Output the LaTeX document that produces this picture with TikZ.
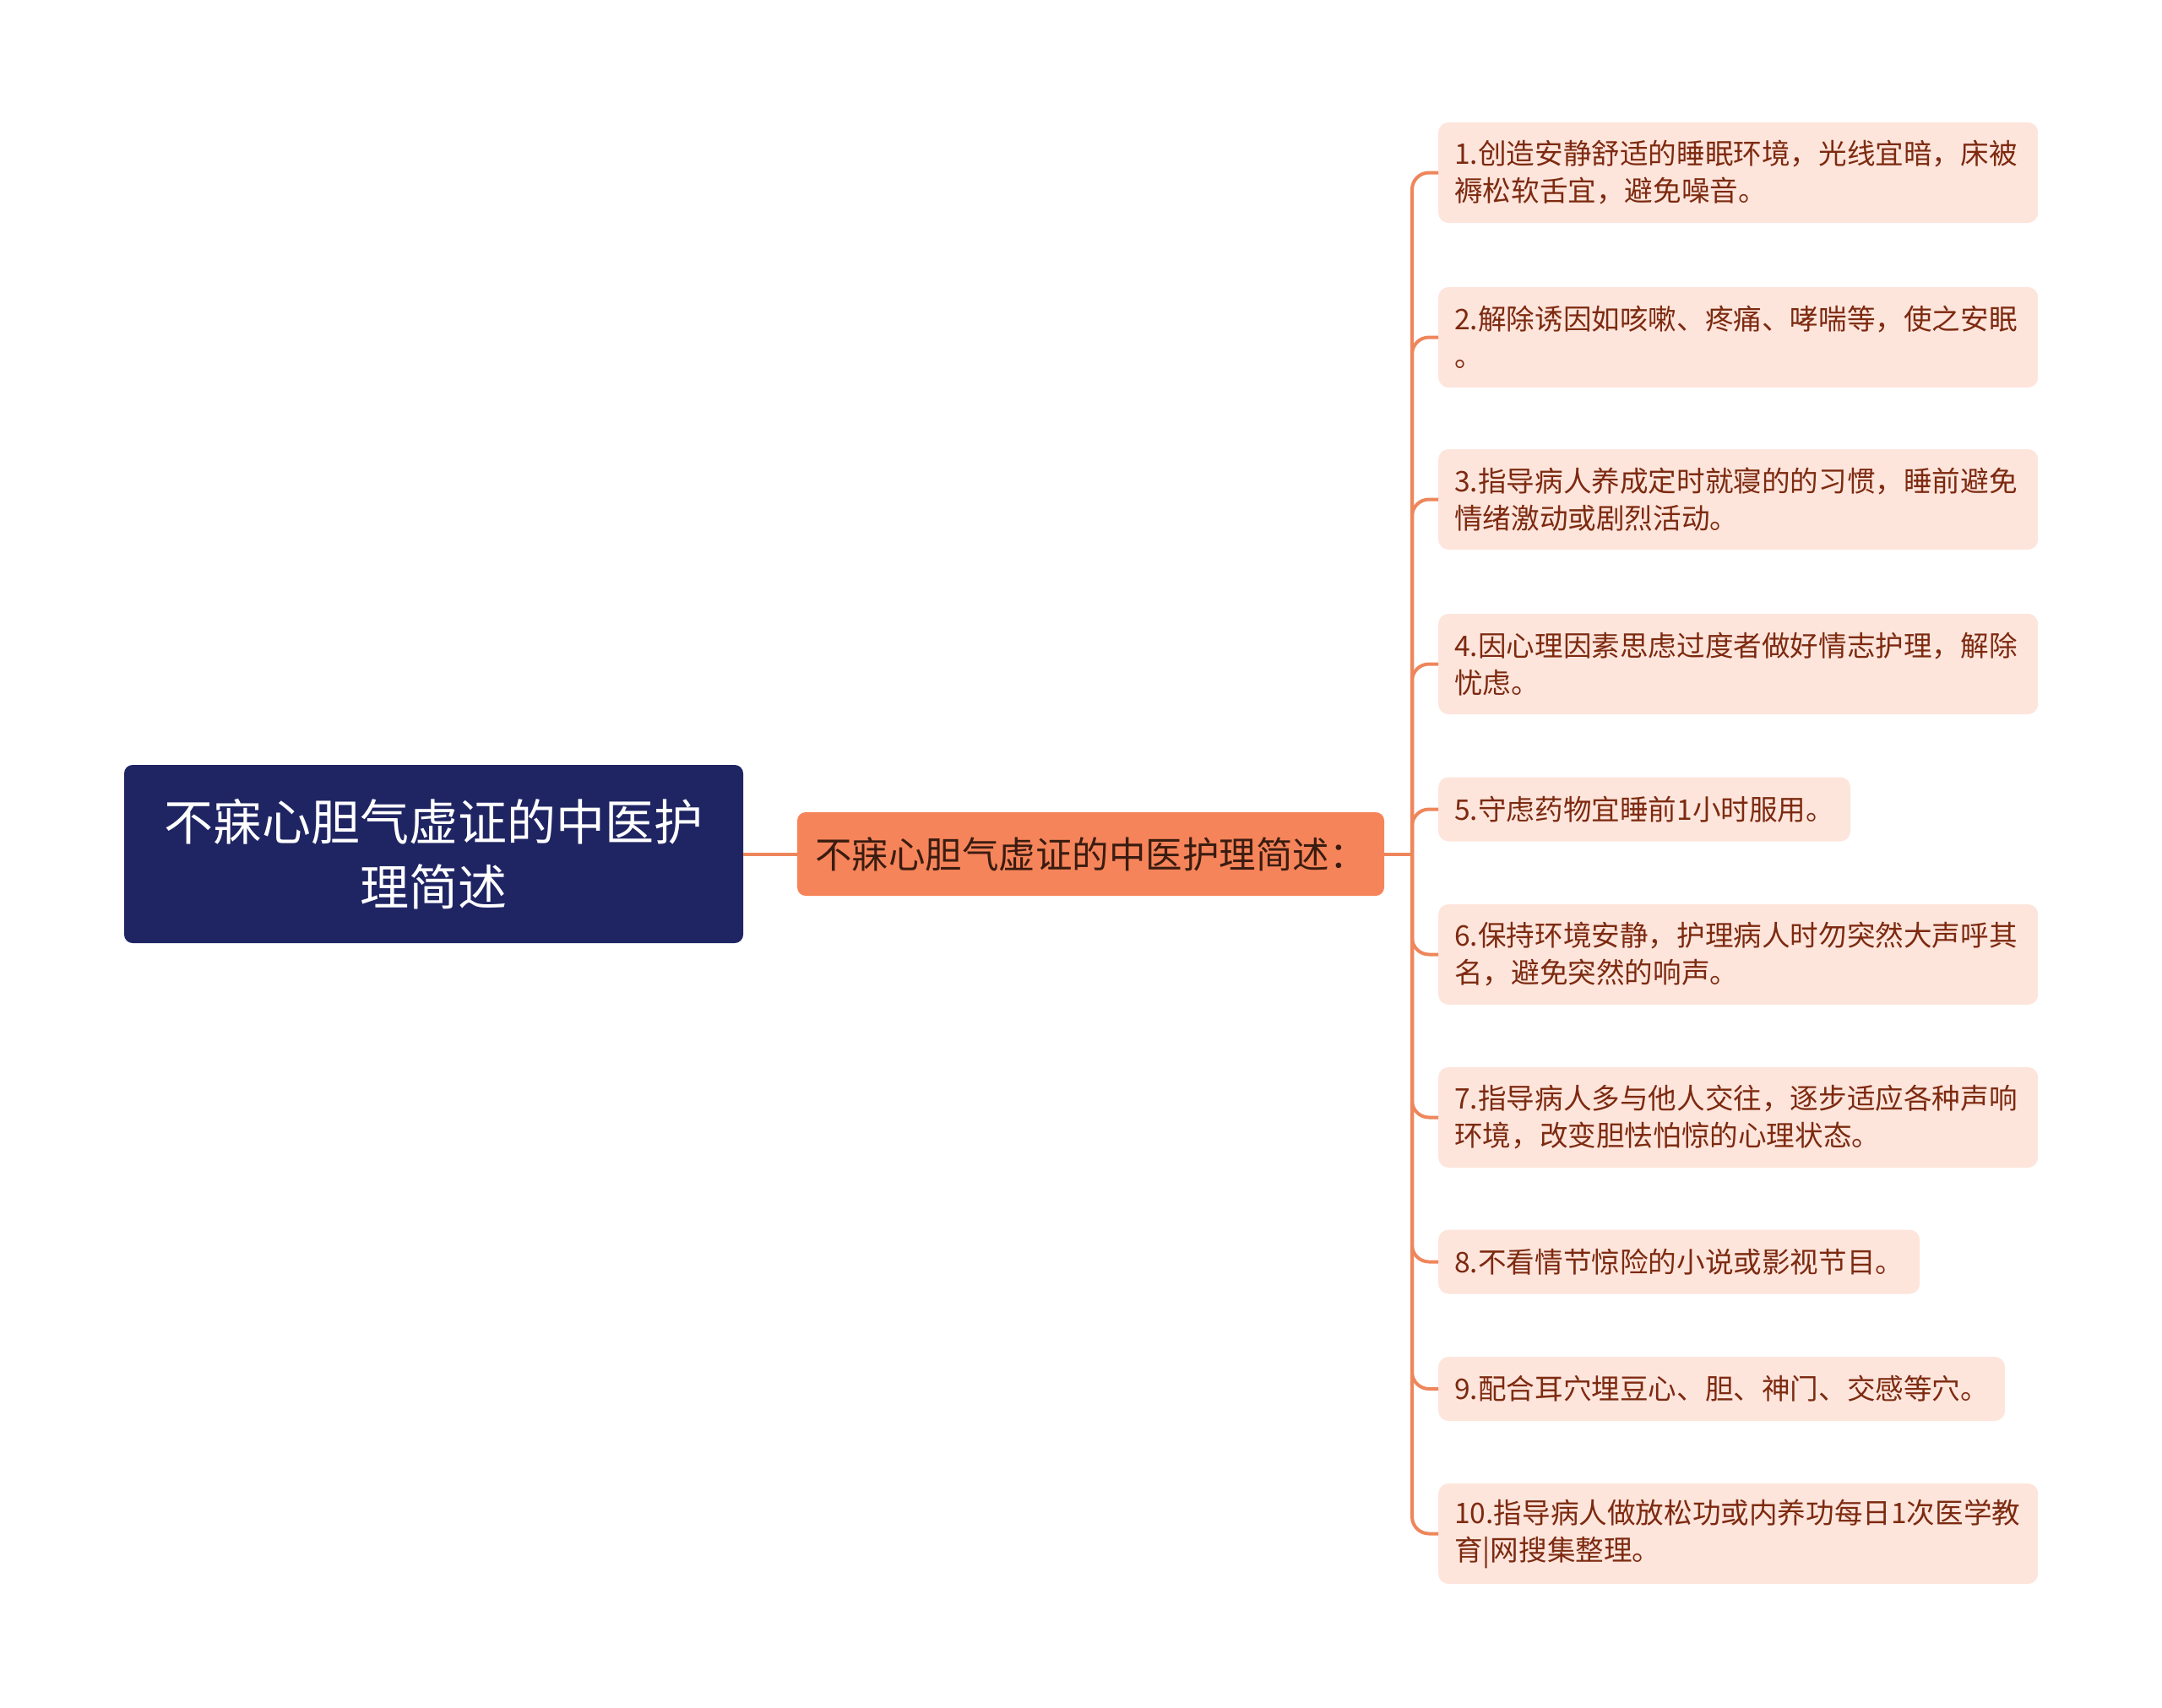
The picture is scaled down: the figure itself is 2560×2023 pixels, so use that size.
\documentclass[tikz,border=0pt]{standalone}
\usepackage{fontspec}
\setmainfont{Noto Sans CJK SC}
\definecolor{navy}{HTML}{1F2563}
\definecolor{coral}{HTML}{F6845A}
\definecolor{peach}{HTML}{FDE5DC}
\definecolor{rust}{HTML}{7D2A10}
\definecolor{cocoa}{HTML}{3A1C10}
\definecolor{wire}{HTML}{EE865C}

\begin{document}
\begin{tikzpicture}[x = 1pt, y = -1pt, link/.style = {draw = wire, line width = 4pt, rounded corners = 20pt}]
    \useasboundingbox (0,0) rectangle (2560,2023);
    \tikzstyle{r}=[rectangle, rounded corners = 10pt, fill = navy, text = white, align = center, minimum width = 733pt, minimum height = 211pt, inner sep = 0pt, font = \fontsize{58}{77}\selectfont]
    \tikzstyle{m}=[rectangle, rounded corners = 10pt, fill = coral, text = cocoa, minimum width = 695pt, minimum height = 99pt, inner sep = 0pt, font = \fontsize{43.5}{50}\selectfont]
    \tikzstyle{l}=[rectangle, rounded corners = 12pt, fill = peach, text = rust, anchor = west, align = left, inner xsep = 19pt, inner ysep = 0pt, minimum height = 76pt, font = \fontsize{33.6}{44}\selectfont]
    \tikzstyle{ll}=[l, text width = 672pt, minimum height = 119pt]

    \node[r] (r) at (513.5,1011.5) {不寐心胆气虚证的中医护\\理简述};
    \node[m] (m) at (1291.5,1011.5) {不寐心胆气虚证的中医护理简述：};
    \coordinate (h) at (1672,1011.5);

    \node[ll] (1) at (1703,204.5) {1.创造安静舒适的睡眠环境，光线宜暗，床被\\褥松软舌宜，避免噪音。};
    \node[ll] (2) at (1703,399.5) {2.解除诱因如咳嗽、疼痛、哮喘等，使之安眠\\。};
    \node[ll] (3) at (1703,591.5) {3.指导病人养成定时就寝的的习惯，睡前避免\\情绪激动或剧烈活动。};
    \node[ll] (4) at (1703,786.5) {4.因心理因素思虑过度者做好情志护理，解除\\忧虑。};
    \node[l] (5) at (1703,958.5) {5.守虑药物宜睡前1小时服用。};
    \node[ll] (6) at (1703,1130.5) {6.保持环境安静，护理病人时勿突然大声呼其\\名，避免突然的响声。};
    \node[ll] (7) at (1703,1323.5) {7.指导病人多与他人交往，逐步适应各种声响\\环境，改变胆怯怕惊的心理状态。};
    \node[l] (8) at (1703,1494.5) {8.不看情节惊险的小说或影视节目。};
    \node[l] (9) at (1703,1645) {9.配合耳穴埋豆心、胆、神门、交感等穴。};
    \node[ll] (10) at (1703,1816.5) {10.指导病人做放松功或内养功每日1次医学教\\育|网搜集整理。};

    \draw [link] (r) -- (m);
    \draw [link] (m) -- (h);
    \foreach \i in {1,...,10}
        {\draw [link] (h) |- (\i.west);}
\end{tikzpicture}
\end{document}
